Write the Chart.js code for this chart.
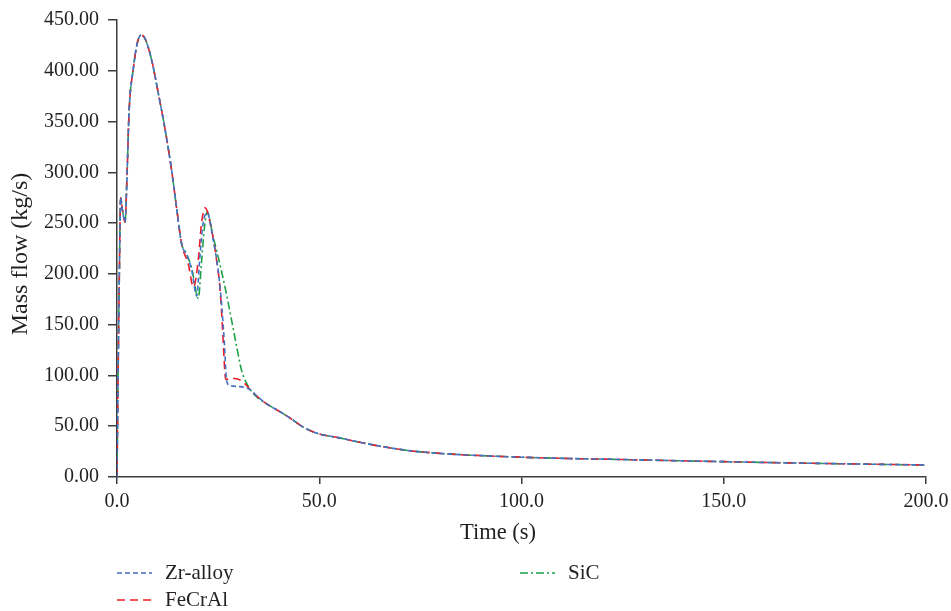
<!DOCTYPE html>
<html>
<head>
<meta charset="utf-8">
<script src="https://cdn.jsdelivr.net/npm/chart.js@4/dist/chart.umd.min.js"></script>
<style>
  html, body { margin: 0; padding: 0; background: #ffffff; }
  #wrap { width: 951px; height: 611px; }
</style>
</head>
<body>
<div id="wrap"><canvas id="chart" width="951" height="611"></canvas></div>
<script>
// Series names
const seriesNames = ['Zr-alloy', 'FeCrAl', 'SiC'];

// Zr-alloy: time (s) and mass flow (kg/s)
const zrTime = [0, 0.3, 0.6, 0.9, 1.3, 2.0, 2.5, 3.0, 4.0, 5.0, 5.9, 6.9, 8.6, 10.2, 11.9, 13.5, 14.8, 16.0,
  17.2, 18.5, 19.7, 20.5, 21.3, 22.3, 23.8, 25.0, 25.9, 26.5, 27.1, 27.9, 30.4, 32.9, 34.5,
  37.0, 40.0, 42.8, 46.1, 49.5, 55.0, 60.3, 67.0, 74.4, 100, 125, 150, 175, 200];
const zrFlow = [0, 110, 205, 275, 264, 251, 300, 361, 401, 427, 435, 432, 410, 378, 342, 302, 263, 229,
  219, 203, 178, 217, 250, 260, 233, 204, 168, 135, 95, 90, 89, 86, 80,
  72, 65, 58, 49, 43, 38.5, 34, 29, 25, 19.5, 17.2, 15.1, 13.3, 11.8];

// FeCrAl: time (s) and mass flow (kg/s)
const fecralTime = [0, 0.3, 0.6, 0.9, 1.3, 2.0, 2.5, 3.0, 4.0, 5.0, 5.9, 6.9, 8.6, 10.2, 11.9, 13.5, 14.8, 16.0,
  17.6, 18.9, 20.1, 20.9, 21.8, 23.4, 24.6, 25.5, 26.1, 26.9, 28.0, 29.2, 31.6, 32.9, 34.5,
  37.0, 40.0, 42.8, 46.1, 49.5, 55.0, 60.3, 67.0, 74.4, 100, 125, 150, 175, 200];
const fecralFlow = [0, 110, 205, 275, 264, 251, 300, 361, 401, 427, 435, 432, 410, 378, 342, 302, 263, 229,
  210, 187, 214, 250, 265, 243, 214, 184, 145, 96, 97, 97, 92, 86, 80,
  72, 65, 58, 49, 43, 38.5, 34, 29, 25, 19.5, 17.2, 15.1, 13.3, 11.8];

// SiC: time (s) and mass flow (kg/s)
const sicTime = [0, 0.3, 0.6, 0.9, 1.3, 2.0, 2.5, 3.0, 4.0, 5.0, 5.9, 6.9, 8.6, 10.2, 11.9, 13.5, 14.8, 16.0,
  17.2, 18.5, 20.1, 20.9, 21.6, 22.3, 23.8, 25.0, 26.7, 28.3, 29.6, 30.8, 32.5, 34.5,
  37.0, 40.0, 42.8, 46.1, 49.5, 55.0, 60.3, 67.0, 74.4, 100, 125, 150, 175, 200];
const sicFlow = [0, 110, 205, 275, 264, 251, 300, 361, 401, 427, 435, 432, 410, 378, 342, 302, 263, 229,
  220, 205, 176, 212, 245, 261, 236, 217, 187, 155, 128, 105, 89, 79,
  72, 65, 58, 49, 43, 38.5, 34, 29, 25, 19.5, 17.2, 15.1, 13.3, 11.8];

// Axis ticks and titles
const timeTicks = [0, 50, 100, 150, 200];
const flowTicks = [0, 50, 100, 150, 200, 250, 300, 350, 400, 450];
const xTitle = 'Time (s)';
const yTitle = 'Mass flow (kg/s)';

const toPoints = (xs, ys) => xs.map((x, i) => ({ x: x, y: ys[i] }));

const FONT = '"Liberation Serif", "DejaVu Serif", serif';
const TEXT = '#231f20';
const AXIS = '#3c3c3c';

const styles = [
  { color: '#4472c4', dash: [5, 3] },
  { color: '#ee1c25', dash: [8, 5] },
  { color: '#1ea04a', dash: [8, 3, 2, 3] }
];

const seriesData = [
  toPoints(zrTime, zrFlow),
  toPoints(fecralTime, fecralFlow),
  toPoints(sicTime, sicFlow)
];

const datasets = seriesNames.map((name, i) => ({
  label: name,
  data: seriesData[i],
  showLine: true,
  borderColor: styles[i].color,
  backgroundColor: styles[i].color,
  borderDash: styles[i].dash,
  borderWidth: 1.6,
  pointRadius: 0,
  pointHoverRadius: 0,
  cubicInterpolationMode: 'monotone',
  fill: false
}));

// Axis titles and the two-column legend under the plot
const legendSpots = [
  { x: 117, y: 573 },
  { x: 117, y: 600 },
  { x: 520, y: 573 }
];
const annotations = {
  id: 'annotations',
  afterDraw(chart) {
    const ctx = chart.ctx;
    ctx.save();
    ctx.fillStyle = TEXT;
    ctx.textBaseline = 'middle';
    ctx.textAlign = 'center';
    ctx.font = '22.5px ' + FONT;
    ctx.fillText(xTitle, 498, 533);
    ctx.save();
    ctx.translate(21, 254);
    ctx.rotate(-Math.PI / 2);
    ctx.font = '24px ' + FONT;
    ctx.fillText(yTitle, 0, 0);
    ctx.restore();

    ctx.font = '21px ' + FONT;
    ctx.textAlign = 'left';
    seriesNames.forEach((name, i) => {
      const p = legendSpots[i];
      ctx.strokeStyle = styles[i].color;
      ctx.lineWidth = 1.6;
      ctx.setLineDash(styles[i].dash);
      ctx.beginPath();
      ctx.moveTo(p.x, p.y);
      ctx.lineTo(p.x + 35, p.y);
      ctx.stroke();
      ctx.setLineDash([]);
      ctx.fillStyle = TEXT;
      ctx.fillText(name, p.x + 48, p.y);
    });
    ctx.restore();
  }
};

new Chart(document.getElementById('chart'), {
  type: 'scatter',
  data: { datasets: datasets },
  plugins: [annotations],
  options: {
    responsive: false,
    animation: false,
    layout: { padding: { left: 0, top: 20, right: 25, bottom: 0 } },
    plugins: {
      legend: { display: false },
      tooltip: { enabled: false }
    },
    scales: {
      x: {
        type: 'linear',
        min: timeTicks[0],
        max: timeTicks[timeTicks.length - 1],
        afterBuildTicks(scale) { scale.ticks = timeTicks.map(v => ({ value: v })); },
        afterFit(scale) { scale.height = 134; scale.paddingLeft = 0; scale.paddingRight = 0; },
        grid: { display: true, drawOnChartArea: false, drawTicks: true, tickLength: 7, color: AXIS, lineWidth: 1.5 },
        border: { display: true, color: AXIS, width: 1.5 },
        ticks: {
          color: TEXT,
          font: { family: FONT, size: 20 },
          padding: 6,
          maxRotation: 0,
          callback: v => Number(v).toFixed(1)
        }
      },
      y: {
        type: 'linear',
        min: flowTicks[0],
        max: flowTicks[flowTicks.length - 1],
        afterBuildTicks(scale) { scale.ticks = flowTicks.map(v => ({ value: v })); },
        afterFit(scale) { scale.width = 117; scale.paddingTop = 0; scale.paddingBottom = 0; },
        grid: { display: true, drawOnChartArea: false, drawTicks: true, tickLength: 9, color: AXIS, lineWidth: 1.5 },
        border: { display: true, color: AXIS, width: 1.5 },
        ticks: {
          color: TEXT,
          font: { family: FONT, size: 20 },
          padding: 9,
          callback: v => Number(v).toFixed(2)
        }
      }
    }
  }
});
</script>
</body>
</html>
